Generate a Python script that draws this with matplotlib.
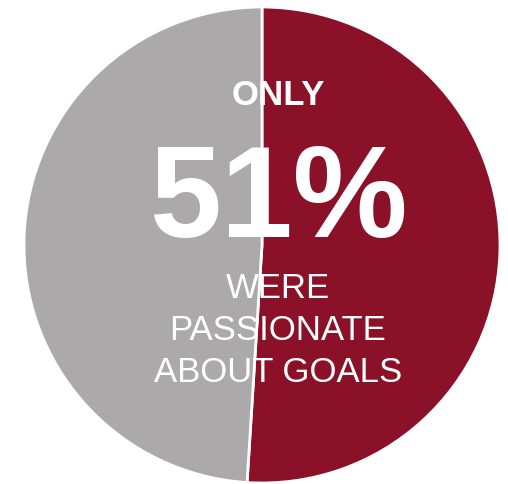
import matplotlib.pyplot as plt

plt.rcParams["font.family"] = ["Liberation Sans", "DejaVu Sans"]

# data
labels = ["Passionate", "Not passionate"]
values = [51, 49]
colors = ["#8B1129", "#ABA9A9"]
caption = ["WERE", "PASSIONATE", "ABOUT GOALS"]

W, H = 508, 484
fig = plt.figure(figsize=(W / 100, H / 100), dpi=100)

# pie centre ~ (262, 245) px, radius ~238 px
cx, cy, r = 262, 245, 238
ax = fig.add_axes([(cx - r) / W, (H - cy - r) / H, 2 * r / W, 2 * r / H])
ax.pie(values, colors=colors, startangle=90, counterclock=False,
       radius=1, wedgeprops=dict(edgecolor="white", linewidth=2))
ax.set_xlim(-1, 1)
ax.set_ylim(-1, 1)
ax.set_aspect("equal")
ax.axis("off")

tx = 278 / W
fig.text(tx, 1 - 105 / H, "ONLY", ha="center", va="baseline",
         fontsize=25, fontweight="bold", color="white")
fig.text(tx + 1 / W, 1 - 237 / H, f"{values[0]}%", ha="center", va="baseline",
         fontsize=93, fontweight="bold", color="white")
for i, line in enumerate(caption):
    fig.text(tx, 1 - (298 + 42 * i) / H, line, ha="center", va="baseline",
             fontsize=25, color="white")

fig.savefig("out.png", dpi=100)
